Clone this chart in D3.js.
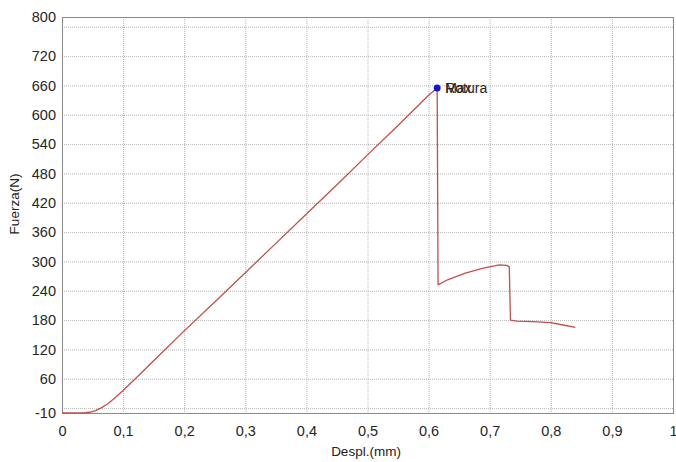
<!DOCTYPE html>
<html><head><meta charset="utf-8">
<script src="https://cdn.jsdelivr.net/npm/d3@7"></script>
<style>body{margin:0;background:#fff}svg{display:block;font-family:"Liberation Sans",Arial,sans-serif}</style>
</head><body><svg id="c" width="676" height="462"></svg>
<script>
const despl = [0,0.035,0.045,0.055,0.065,0.075,0.085,0.1,0.12,0.15,0.2,0.25,0.3,0.35,0.4,0.45,0.5,0.55,0.6,0.614,0.6155,0.632,0.66,0.688,0.7,0.716,0.728,0.732,0.734,0.745,0.77,0.8,0.82,0.84];
const fuerza = [-10,-10,-8.5,-5,1,9,19,36,60,97,158,217,277,337,397,457,518,578,640,655,252,263,276,286,289,293,292,289,180,178,177,175,170,165];
const xTicks = [0,0.1,0.2,0.3,0.4,0.5,0.6,0.7,0.8,0.9,1];
const yTickLabels = [-10,60,120,180,240,300,360,420,480,540,600,660,720,800];
const yGrid = [0,60,120,180,240,300,360,420,480,540,600,660,720,780];
const peak = {x:0.614, y:655, labels:["Rotura","Max"]};

const svg = d3.select("#c");
const L=62,R=673,T=17,B=413;
const x = d3.scaleLinear().domain([0,1]).range([L,R]);
const y = d3.scaleLinear().domain([-10,800]).range([B,T]);

// grid
svg.append("g").selectAll("line").data(yGrid).join("line")
  .attr("x1",L).attr("x2",R).attr("y1",d=>y(d)+0.5).attr("y2",d=>y(d)+0.5)
  .attr("stroke","#b4b4b4").attr("stroke-dasharray","1,1");
svg.append("g").selectAll("line").data(xTicks.slice(1,-1)).join("line")
  .attr("y1",T).attr("y2",B).attr("x1",d=>x(d)+0.5).attr("x2",d=>x(d)+0.5)
  .attr("stroke","#b4b4b4").attr("stroke-dasharray","1,1");

// frame
svg.append("rect").attr("x",L+0.5).attr("y",T+0.5).attr("width",R-L).attr("height",B-T)
  .attr("fill","none").attr("stroke","#8a8a8a");

// axes (labels only)
const fmt = d => String(d).replace(".",",");
const xAxis = d3.axisBottom(x).tickValues(xTicks).tickFormat(fmt).tickSize(0).tickPadding(13);
const gx = svg.append("g").attr("transform",`translate(0,${B})`).call(xAxis);
gx.select(".domain").remove();
gx.selectAll("text").attr("font-size",14.5).attr("fill","#262626").attr("font-family","Liberation Sans, Arial, sans-serif");

const yAxis = d3.axisLeft(y).tickValues(yTickLabels).tickFormat(d=>String(d)).tickSize(0).tickPadding(6);
const gy = svg.append("g").attr("transform",`translate(${L},0)`).call(yAxis);
gy.select(".domain").remove();
gy.selectAll("text").attr("font-size",14.5).attr("fill","#262626").attr("font-family","Liberation Sans, Arial, sans-serif");

// curve
const line = d3.line().x((d,i)=>x(despl[i])).y((d,i)=>y(fuerza[i]));
svg.append("path").datum(fuerza).attr("d",line).attr("fill","none")
  .attr("stroke","#c0504d").attr("stroke-width",1.3).attr("stroke-linejoin","round");

// peak marker
svg.append("circle").attr("cx",x(peak.x)).attr("cy",y(peak.y)).attr("r",3.5).attr("fill","#1515d0");
peak.labels.forEach(t=>{
  svg.append("text").attr("x",x(peak.x)+8).attr("y",y(peak.y)+5).attr("font-size",14)
    .attr("fill","#262626").text(t);
});

// axis titles
svg.append("text").attr("x",366).attr("y",456).attr("text-anchor","middle").attr("font-size",13.5).attr("fill","#222").text("Despl.(mm)");
svg.append("text").attr("transform","translate(19,204) rotate(-90)").attr("text-anchor","middle").attr("font-size",13.5).attr("fill","#222").text("Fuerza(N)");
</script></body></html>
